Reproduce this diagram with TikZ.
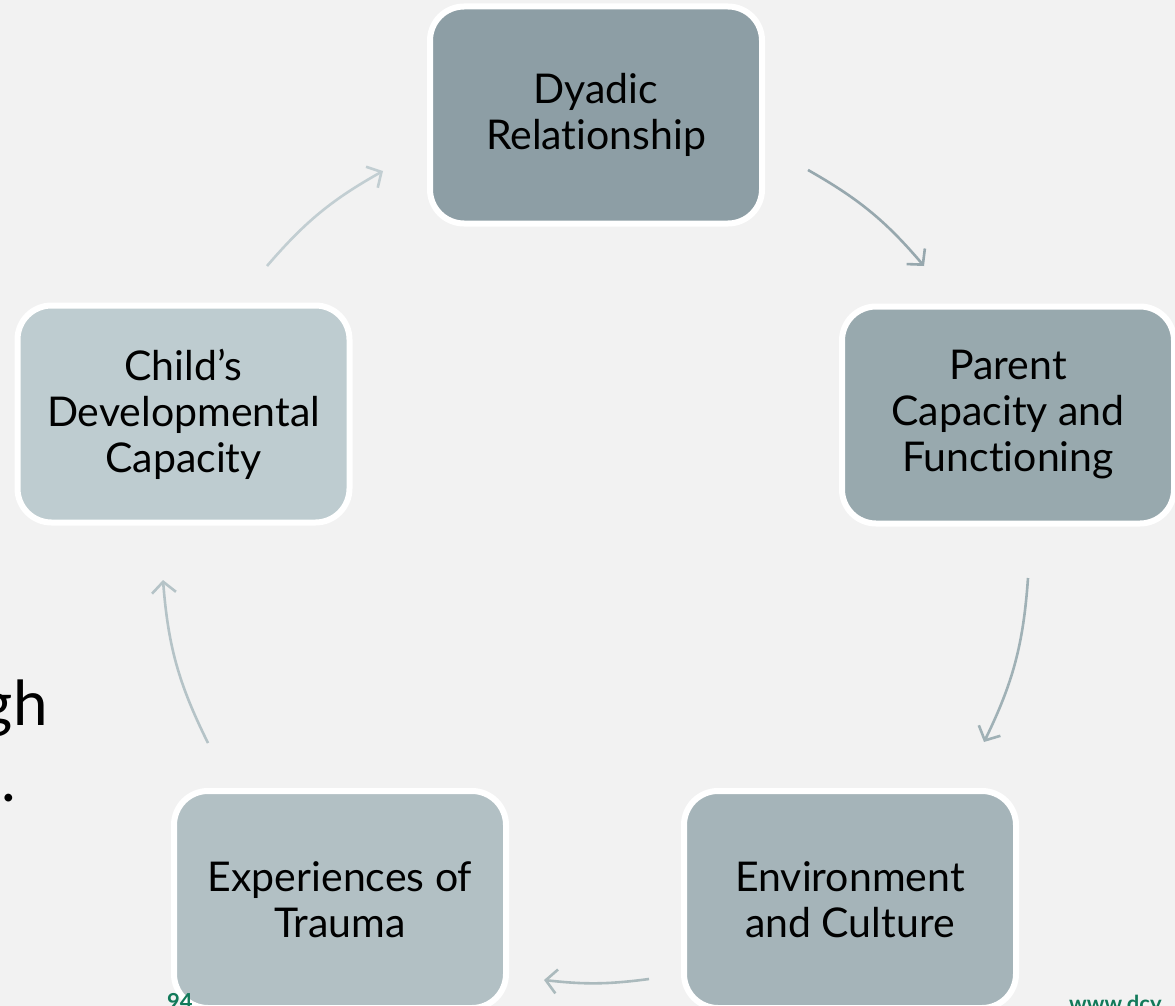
\documentclass[tikz,border=0pt]{standalone}
\usepackage{fontspec}
\setmainfont{Lato}[Ligatures=NoCommon]
\usepackage{tikz}
\usetikzlibrary{arrows.meta,positioning}
\definecolor{slidebg}{HTML}{F2F2F2}
\definecolor{boxa}{HTML}{8D9EA5}
\definecolor{boxb}{HTML}{98A9AE}
\definecolor{boxc}{HTML}{A5B4B9}
\definecolor{boxd}{HTML}{B2C0C4}
\definecolor{boxe}{HTML}{BECCD0}
\definecolor{arra}{HTML}{97A8AE}
\definecolor{arrb}{HTML}{A0B1B6}
\definecolor{arrc}{HTML}{ABBABD}
\definecolor{arrd}{HTML}{B5C3C7}
\definecolor{arre}{HTML}{C2CED2}
\definecolor{greenx}{HTML}{127A5A}
\tikzset{
  ar/.style={-{Straight Barb[length=11pt,width=24pt]},line width=2.6pt},
  box/.style={draw=white,line width=6pt,rounded corners=34pt,align=center,inner sep=0pt,
    minimum width=332pt,minimum height=217pt,font=\fontsize{41}{46}\selectfont}
}

\begin{document}
\begin{tikzpicture}[x=1pt,y=1pt]
\fill[slidebg] (0,0) rectangle (1175,-1006);
\clip (0,0) rectangle (1175,-1006);
% left-over slide text
\node[anchor=base east,inner sep=0pt,font=\fontsize{62}{70}\selectfont] (bodya) at (48,-725) {gh};
\node[anchor=base east,inner sep=0pt,font=\fontsize{62}{70}\selectfont] (bodyb) at (16,-801) {.};
% cycle boxes
\node[box,fill=boxa] (dyad) at (596,-115) {Dyadic\\Relationship};
\node[box,fill=boxb] (par) at (1008,-415) {Parent\\Capacity and\\Functioning};
\node[box,fill=boxc] (env) at (850,-899.5) {Environment\\and Culture};
\node[box,fill=boxd] (trau) at (340,-899.5) {Experiences of\\Trauma};
\node[box,fill=boxe] (child) at (183.5,-414) {Child’s\\Developmental\\Capacity};
% arrow ends
\coordinate (c1a) at (267,-266);  \coordinate (c1b) at (383,-171);
\coordinate (c2a) at (808,-170);  \coordinate (c2b) at (924,-266);
\coordinate (c3a) at (1028,-578); \coordinate (c3b) at (984,-742);
\coordinate (c4a) at (649,-979);  \coordinate (c4b) at (544,-980);
\coordinate (c5a) at (208,-743);  \coordinate (c5b) at (163,-580);
\draw[ar,arre] (c1a) to[bend left=10] (c1b);
\draw[ar,arra] (c2a) to[bend left=10] (c2b);
\draw[ar,arrb] (c3a) to[bend left=11] (c3b);
\draw[ar,arrc] (c4a) to[bend left=7] (c4b);
\draw[ar,arrd] (c5a) to[bend left=11] (c5b);
% footer
\node[anchor=base west,inner sep=0pt,text=greenx,font=\fontsize{22}{24}\selectfont\bfseries] (pgno) at (167,-1009) {94};
\node[anchor=base west,inner sep=0pt,text=greenx,font=\fontsize{22}{24}\selectfont\bfseries] (web) at (1069,-1011) {www.dcy};
\end{tikzpicture}
\end{document}
